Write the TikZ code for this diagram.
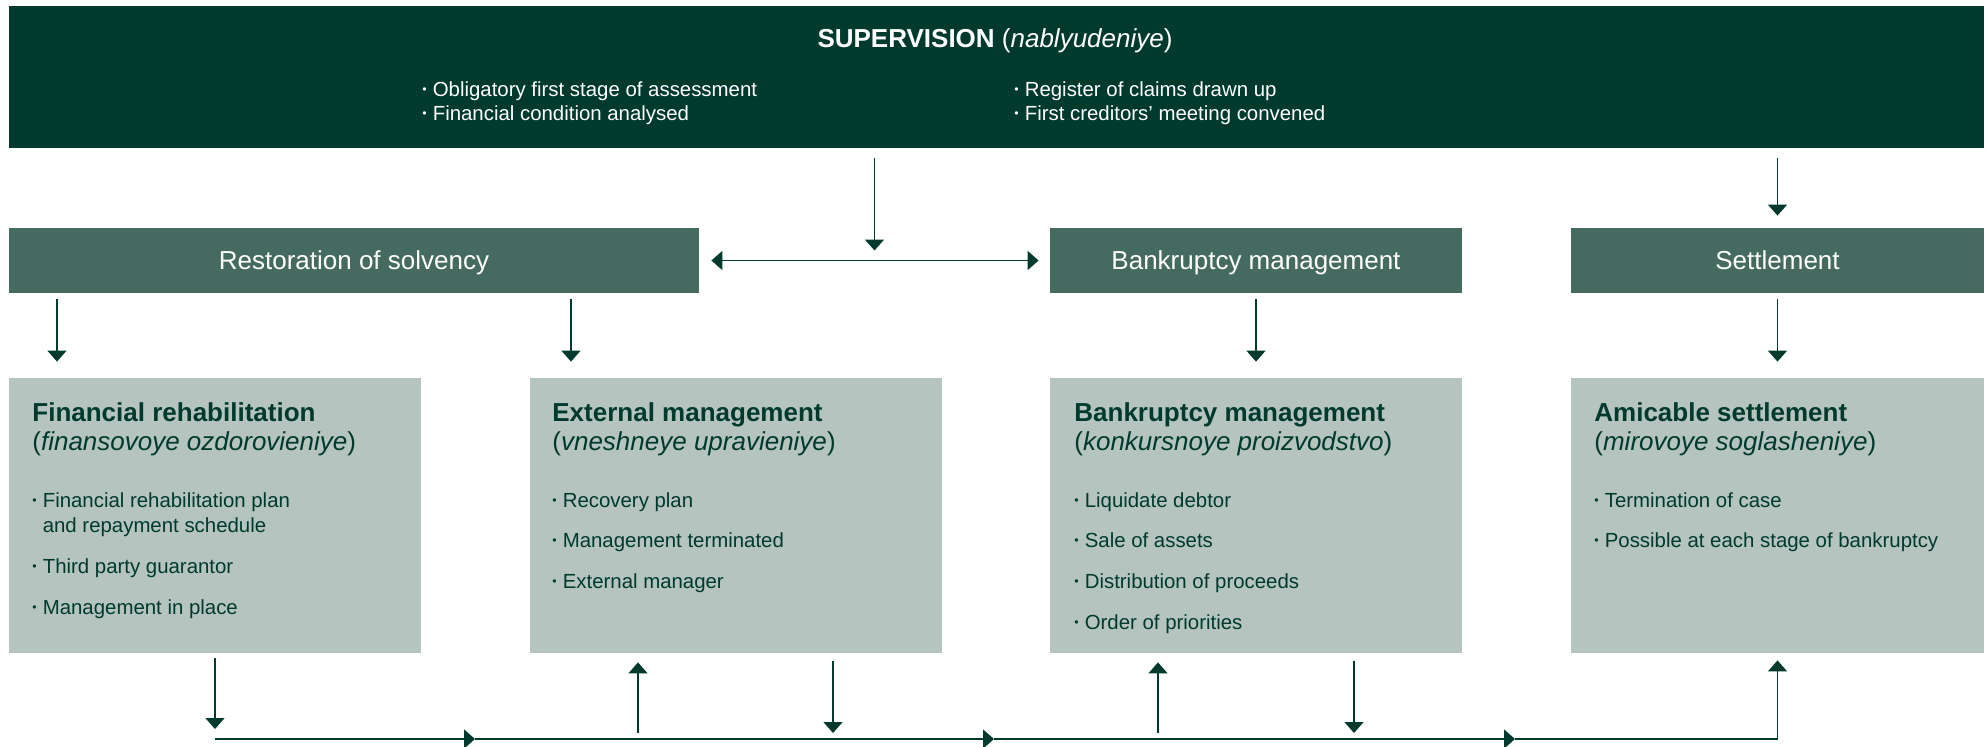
\documentclass[tikz,border=0pt]{standalone}
\usepackage{fontspec}
\setmainfont{Liberation Sans}
\usepackage{graphicx}
\usepackage{tikz}
\usetikzlibrary{arrows.meta}
\definecolor{dkgreen}{HTML}{003A2D}
\definecolor{mdgreen}{HTML}{456B60}
\definecolor{ltgreen}{HTML}{B5C4BF}
\newcommand{\bl}{\raisebox{0.12em}{\scalebox{0.6}{\textbullet}}\hspace{0.3em}}

\begin{document}
\begin{tikzpicture}[
    x=0.5pt, y=-0.5pt,
    dkbox/.style={fill=dkgreen, inner sep=0pt, minimum width=987.5pt, minimum height=71pt},
    mdbox/.style={fill=mdgreen, text=white, inner sep=0pt, minimum height=32.5pt,
      font=\fontsize{13}{15}\selectfont, text height=9.4pt, text depth=0pt},
    ltbox/.style={fill=ltgreen, inner sep=0pt, minimum width=206pt, minimum height=137.5pt},
    wtxt/.style={text=white, inner sep=0pt, anchor=base west, font=\fontsize{10.2}{12}\selectfont},
    head/.style={text=dkgreen, inner sep=0pt, anchor=base west, font=\fontsize{13}{15}\selectfont},
    item/.style={text=dkgreen, inner sep=0pt, anchor=base west, font=\fontsize{10.2}{12}\selectfont},
    arr/.style={draw=dkgreen, line width=0.7pt, -{Triangle[width=9.5pt,length=5.5pt]}},
    ]
    \useasboundingbox (0,0) rectangle (1988,746);
    % supervision
    \node[dkbox] (sup) at (996.5,77) {};
    \node[anchor=base, inner sep=0pt, text=white, font=\fontsize{13}{15}\selectfont] (sup-t) at (995,47)
      {\textbf{SUPERVISION} (\textit{nablyudeniye})};
    \node[wtxt] (sup-1) at (422,96) {\bl Obligatory first stage of assessment};
    \node[wtxt] (sup-2) at (422,120) {\bl Financial condition analysed};
    \node[wtxt] (sup-3) at (1014,96) {\bl Register of claims drawn up};
    \node[wtxt] (sup-4) at (1014,120) {\bl First creditors’ meeting convened};
    % procedures
    \node[mdbox, minimum width=345pt] (rest) at (354,260.5) {Restoration of solvency};
    \node[mdbox, minimum width=206pt] (bkm) at (1256,260.5) {Bankruptcy management};
    \node[mdbox, minimum width=206.5pt] (setl) at (1777.5,260.5) {Settlement};
    % stages
    \node[ltbox] (fr) at (215,515.5) {};
    \node[ltbox] (em) at (736,515.5) {};
    \node[ltbox] (bk) at (1256,515.5) {};
    \node[ltbox, minimum width=206.5pt] (as) at (1777.5,515.5) {};
    \node[head] (fr-h) at (32,421) {\textbf{Financial rehabilitation}};
    \node[head] (fr-i) at (32,450) {(\textit{finansovoye ozdorovieniye})};
    \node[head] (em-h) at (552,421) {\textbf{External management}};
    \node[head] (em-i) at (552,450) {(\textit{vneshneye upravieniye})};
    \node[head] (bk-h) at (1074,421) {\textbf{Bankruptcy management}};
    \node[head] (bk-i) at (1074,450) {(\textit{konkursnoye proizvodstvo})};
    \node[head] (as-h) at (1594,421) {\textbf{Amicable settlement}};
    \node[head] (as-i) at (1594,450) {(\textit{mirovoye soglasheniye})};
    \foreach \y/\t [count=\i] in {507/Financial rehabilitation plan, 573/Third party guarantor, 614/Management in place}
      \node[item] (fr-\i) at (32,\y) {\bl\t};
    \node[item] (fr-1b) at (32,532) {\hphantom{\bl}and repayment schedule};
    \foreach \y/\t [count=\i] in {507/Recovery plan, 547/Management terminated, 588/External manager}
      \node[item] (em-\i) at (552,\y) {\bl\t};
    \foreach \y/\t [count=\i] in {507/Liquidate debtor, 547/Sale of assets, 588/Distribution of proceeds, 629/Order of priorities}
      \node[item] (bk-\i) at (1074,\y) {\bl\t};
    \foreach \y/\t [count=\i] in {507/Termination of case, 547/Possible at each stage of bankruptcy}
      \node[item] (as-\i) at (1594,\y) {\bl\t};
    % top arrows
    \coordinate (hx) at (874.5,0);
    \draw[arr, shorten <=5pt, shorten >=5pt] (sup.south -| hx) -- (rest.east -| hx);
    \draw[arr, {Triangle[width=9.5pt,length=5.5pt]}-{Triangle[width=9.5pt,length=5.5pt]},
      shorten <=6pt, shorten >=5.5pt] (rest.east) -- (bkm.west);
    \draw[arr, shorten <=5pt, shorten >=6pt] (sup.south -| setl) -- (setl.north);
    \coordinate (a1) at (57,0);
    \coordinate (a2) at (571,0);
    \draw[arr, shorten <=3pt, shorten >=8pt] (rest.south -| a1) -- (fr.north -| a1);
    \draw[arr, shorten <=3pt, shorten >=8pt] (rest.south -| a2) -- (em.north -| a2);
    \draw[arr, shorten <=3pt, shorten >=8pt] (bkm.south) -- (bk.north);
    \draw[arr, shorten <=3pt, shorten >=8pt] (setl.south) -- (as.north);
    % bottom line
    \coordinate (b0) at (215,739);
    \coordinate (b1) at (475,739);
    \coordinate (b2) at (994,739);
    \coordinate (b3) at (1515,739);
    \coordinate (b4) at (1777.5,739);
    \coordinate (u1) at (638,739);
    \coordinate (d1) at (833,739);
    \coordinate (u2) at (1158,739);
    \coordinate (d2) at (1354,739);
    \draw[arr, shorten <=2.5pt, shorten >=5pt] (fr.south) -- (b0);
    \draw[arr] (b0) -- (b1);
    \draw[arr] (b1) -- (b2);
    \draw[arr] (b2) -- (b3);
    \draw[arr, shorten >=3.5pt] (b3) -- (b4) -- (as.south);
    \draw[arr, shorten <=3pt, shorten >=4.5pt] (u1) -- (em.south -| u1);
    \draw[arr, shorten <=4pt, shorten >=3pt] (em.south -| d1) -- (d1);
    \draw[arr, shorten <=3pt, shorten >=4.5pt] (u2) -- (bk.south -| u2);
    \draw[arr, shorten <=4pt, shorten >=3pt] (bk.south -| d2) -- (d2);
\end{tikzpicture}
\end{document}
